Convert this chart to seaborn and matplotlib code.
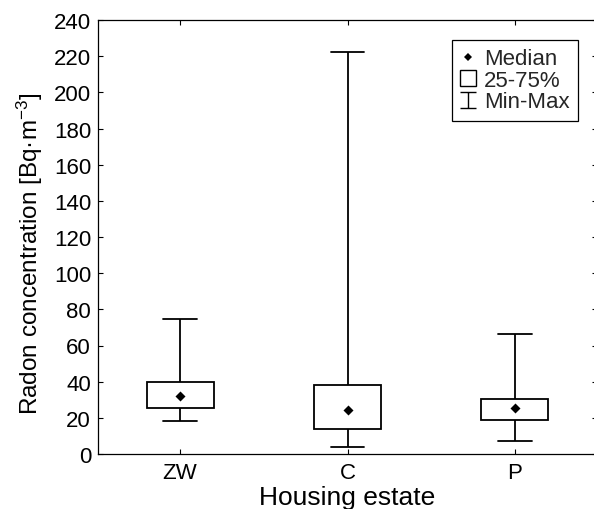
import matplotlib
matplotlib.use("Agg")
import matplotlib.pyplot as plt
import seaborn as sns
import pandas as pd
import numpy as np
from matplotlib.lines import Line2D
from matplotlib.path import Path

categories = ["ZW", "C", "P"]
mins = [18.0, 3.7, 7.2]
q1s = [25.6, 14.0, 19.0]
medians = [32.3, 24.3, 25.3]
q3s = [40.0, 38.2, 30.4]
maxs = [74.7, 222.2, 66.2]
yticks = list(range(0, 241, 20))

sns.set_theme(style="white")
plt.rcParams["font.family"] = ["Liberation Sans", "DejaVu Sans"]
plt.rcParams["mathtext.fontset"] = "custom"
plt.rcParams["mathtext.rm"] = "Liberation Sans"
plt.rcParams["mathtext.it"] = "Liberation Sans"
plt.rcParams["mathtext.bf"] = "Liberation Sans"

rows = []
for c, a, b, m, d, e in zip(categories, mins, q1s, medians, q3s, maxs):
    for v in (a, b, m, d, e):
        rows.append({"estate": c, "value": v})
df = pd.DataFrame(rows)
med_df = pd.DataFrame({"estate": categories, "value": medians})

fig = plt.figure(figsize=(5.94, 5.10), dpi=100)
W, H = 594, 510
left, right, top, bottom = 98, 597, 21, 455
ax = fig.add_axes([left / W, 1 - bottom / H, (right - left) / W, (bottom - top) / H])

lw = 1.3
sns.boxplot(data=df, x="estate", y="value", order=categories, whis=(0, 100),
            width=0.4, color="white", linecolor="black", linewidth=lw,
            fliersize=0, ax=ax,
            medianprops=dict(visible=False),
            boxprops=dict(facecolor="white", edgecolor="black", linewidth=lw),
            whiskerprops=dict(color="black", linewidth=lw),
            capprops=dict(color="black", linewidth=lw))
sns.scatterplot(data=med_df, x="estate", y="value", marker="D", s=26,
                color="black", edgecolor="black", linewidth=0, ax=ax, zorder=5)

ax.set_xlim(-0.49, 2.49)
ax.set_ylim(0, 240)
ax.set_yticks(yticks)
ax.set_yticklabels([str(t) for t in yticks])
for s in ax.spines.values():
    s.set_visible(True)
    s.set_color("black")
    s.set_linewidth(0.9)
ax.tick_params(axis="both", which="both", direction="in", length=3.5, width=0.8,
               colors="black", labelsize=16, top=True, right=True,
               bottom=True, left=True)
ax.tick_params(axis="y", pad=5)
ax.tick_params(axis="x", pad=6)
ax.set_xlabel("Housing estate", fontsize=19, color="black", labelpad=1.5)
ax.set_ylabel(r"Radon concentration [Bq·m$^{-3}$]", fontsize=17.5, color="black")
ax.yaxis.set_label_coords((45 - left) / (right - left), (bottom - 254) / (bottom - top))
ax.grid(False)

# legend handles
cap = Path([(-1, 1), (1, 1), (0, 1), (0, -1), (-1, -1), (1, -1)],
           [Path.MOVETO, Path.LINETO, Path.MOVETO, Path.LINETO, Path.MOVETO, Path.LINETO])
handles = [
    Line2D([], [], linestyle="none", marker="D", markersize=4.5, color="black",
           markeredgewidth=0),
    Line2D([], [], linestyle="none", marker="s", markersize=11, markerfacecolor="white",
           markeredgecolor="black", markeredgewidth=1.0),
    Line2D([], [], linestyle="none", marker=cap, markersize=11, color="black",
           markeredgewidth=1.0, markerfacecolor="none"),
]
leg = ax.legend(handles, ["Median", "25-75%", "Min-Max"], loc="upper right",
                bbox_to_anchor=((578 - left) / (right - left), 1 - (41 - top) / (bottom - top)),
                borderaxespad=0, frameon=True, fancybox=False, fontsize=16,
                handlelength=0.7, handletextpad=0.35, labelspacing=0.02,
                borderpad=0.38, framealpha=1)
leg.get_frame().set_edgecolor("black")
leg.get_frame().set_linewidth(0.9)

fig.savefig("out.png", dpi=100)
